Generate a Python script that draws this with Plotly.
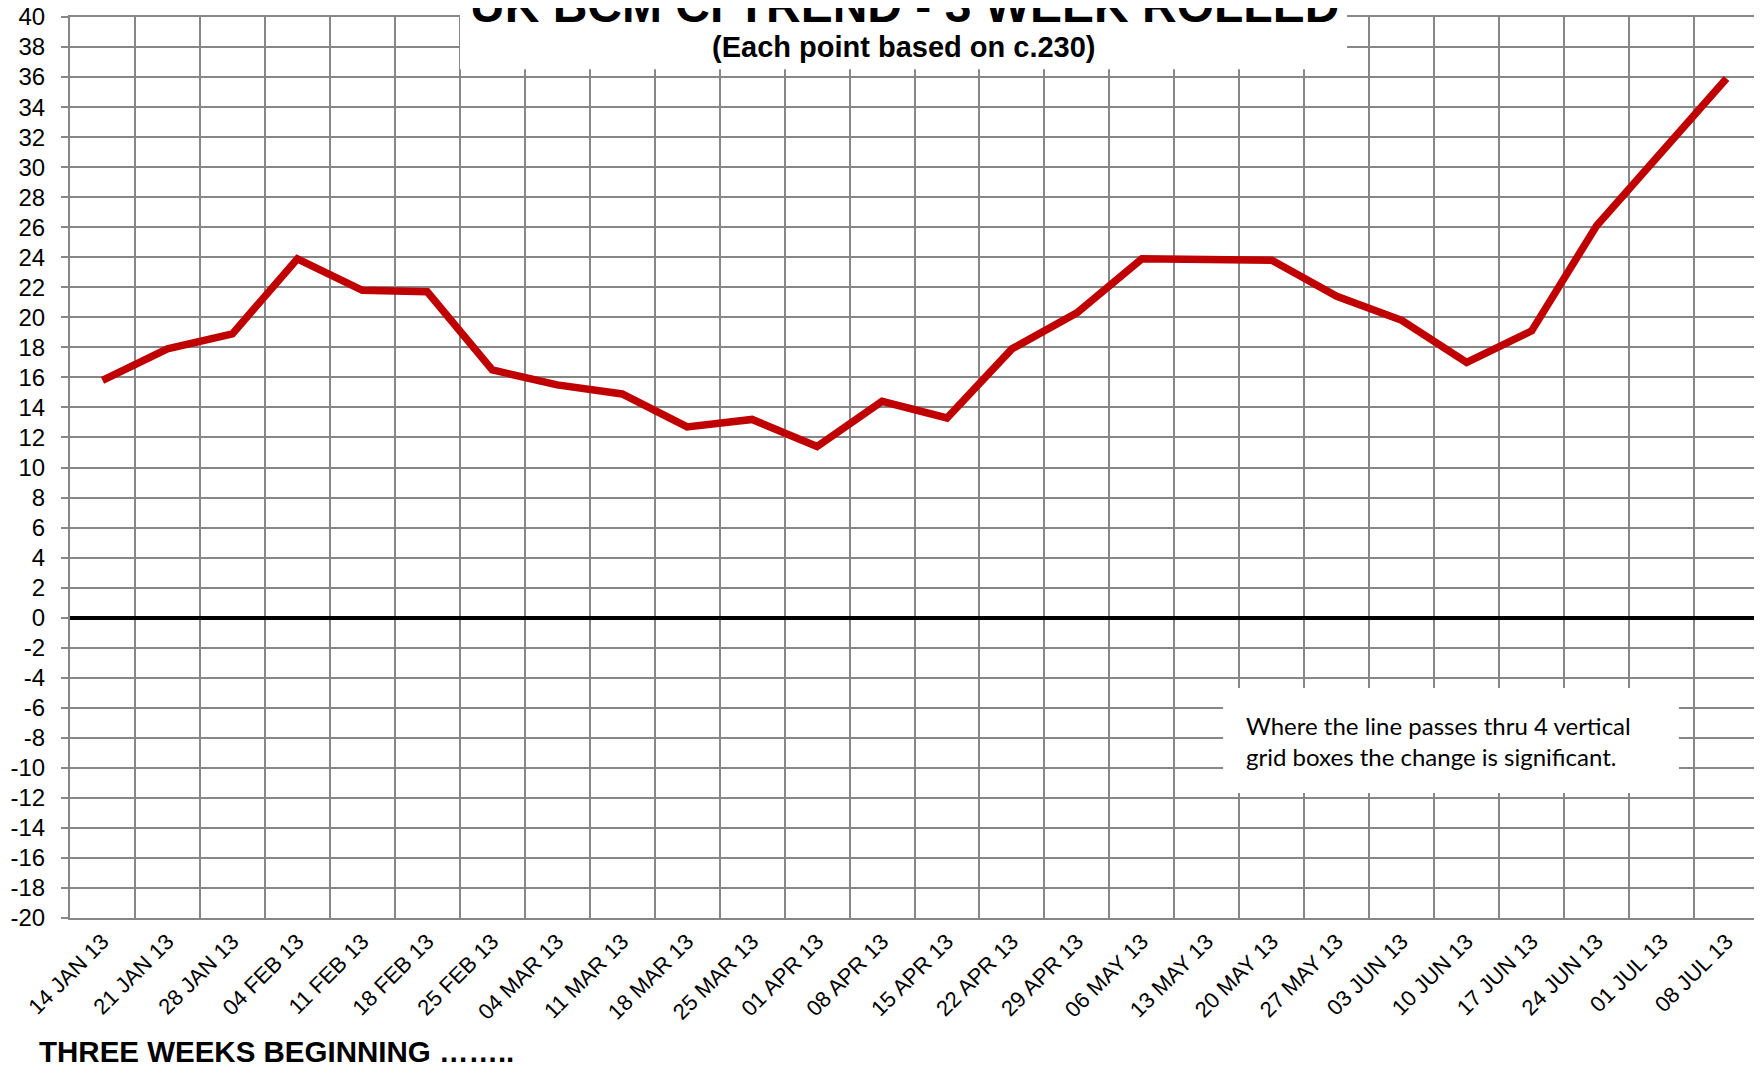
"""UK BCM CI trend, 3 week rolled - static recreation with Plotly."""

import plotly.graph_objects as go

weeks = [
    "14 JAN 13", "21 JAN 13", "28 JAN 13", "04 FEB 13", "11 FEB 13", "18 FEB 13",
    "25 FEB 13", "04 MAR 13", "11 MAR 13", "18 MAR 13", "25 MAR 13", "01 APR 13",
    "08 APR 13", "15 APR 13", "22 APR 13", "29 APR 13", "06 MAY 13", "13 MAY 13",
    "20 MAY 13", "27 MAY 13", "03 JUN 13", "10 JUN 13", "17 JUN 13", "24 JUN 13",
    "01 JUL 13", "08 JUL 13",
]
ci_values = [
    15.8, 17.9, 18.9, 23.9, 21.8, 21.7,
    16.5, 15.5, 14.9, 12.7, 13.2, 11.4,
    14.4, 13.3, 17.9, 20.3, 23.9, 23.9,
    23.8, 21.4, 19.8, 17.0, 19.1, 26.1,
    31.0, 35.9,
]
y_ticks = list(range(-20, 41, 2))
y_labels = [str(v) for v in y_ticks]  # plain hyphen, like the original

GRID = "#878787"
FONT = "Liberation Sans, Arial, sans-serif"

fig = go.Figure()
fig.add_trace(
    go.Scatter(
        x=weeks,
        y=ci_values,
        mode="lines",
        line=dict(color="#C00000", width=7.5),
        showlegend=False,
    )
)

# white boxes behind the chart title and the note (they hide the grid)
fig.add_shape(
    type="rect", xref="paper", yref="paper",
    x0=0.2309, x1=0.7561, y0=0.942, y1=1.03,
    fillcolor="white", line_width=0, layer="above",
)
fig.add_shape(
    type="rect", xref="paper", yref="paper",
    x0=0.6827, x1=0.9526, y0=0.1387, y1=0.2553,
    fillcolor="white", line_width=0, layer="above",
)

fig.add_annotation(
    text="<b>UK BCM CI TREND - 3 WEEK ROLLED</b>",
    xref="paper", yref="paper", x=0.4938, y=1.0132,
    xanchor="center", yanchor="middle", showarrow=False,
    font=dict(family=FONT, size=48, color="black"),
)
fig.add_annotation(
    text="<b>(Each point based on c.230)</b>",
    xref="paper", yref="paper", x=0.4938, y=0.967,
    xanchor="center", yanchor="middle", showarrow=False,
    font=dict(family=FONT, size=29, color="black"),
)
fig.add_annotation(
    text="Where the line passes thru 4 vertical<br>grid boxes the change is significant.",
    xref="paper", yref="paper", x=0.695, y=0.197,
    xanchor="left", yanchor="middle", align="left", showarrow=False,
    font=dict(family="Lato, sans-serif", size=24, color="black"),
)
fig.add_annotation(
    text="<b>THREE WEEKS BEGINNING ……..</b>",
    xref="paper", yref="paper", x=-0.0195, y=-0.1487,
    xanchor="left", yanchor="middle", showarrow=False,
    font=dict(family=FONT, size=29.5, color="black"),
)

fig.update_xaxes(
    type="category",
    categoryorder="array",
    categoryarray=weeks,
    range=[-0.5, len(weeks) - 0.5],
    tickson="boundaries",
    showgrid=True,
    gridcolor=GRID,
    gridwidth=2,
    showline=True,
    linecolor=GRID,
    linewidth=2,
    mirror=True,
    ticks="",
    tickangle=-45,
    tickfont=dict(family=FONT, size=22, color="black"),
    automargin=False,
)
fig.update_yaxes(
    range=[-20, 40],
    tickvals=y_ticks,
    ticktext=y_labels,
    showgrid=True,
    gridcolor=GRID,
    gridwidth=2,
    showline=True,
    linecolor=GRID,
    linewidth=2,
    mirror=True,
    ticks="outside",
    ticklen=7,
    tickwidth=2,
    tickcolor=GRID,
    ticklabelstandoff=11,
    ticklabeloverflow="allow",
    zeroline=True,
    zerolinecolor="black",
    zerolinewidth=4,
    tickfont=dict(family=FONT, size=24, color="black"),
    automargin=False,
)
# the page body keeps its default 8px margin, so the figure is sized to fit
fig.update_layout(
    template="none",
    width=1754,
    height=1060,
    margin=dict(l=62, r=3, t=9, b=150),
    paper_bgcolor="white",
    plot_bgcolor="white",
    showlegend=False,
)

fig.write_html("out.html")
